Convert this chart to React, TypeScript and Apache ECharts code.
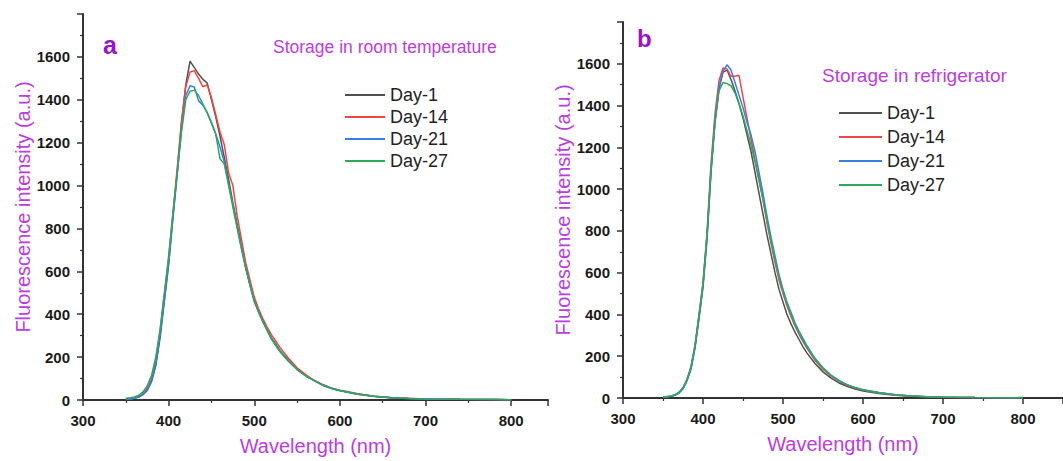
import React, { useEffect, useRef } from "react";
import * as echarts from "echarts";

const wavelengths = [350,355,360,365,370,375,380,385,390,395,400,405,410,415,420,425,430,435,440,445,450,455,460,465,470,475,480,485,490,495,500,505,510,515,520,525,530,540,550,560,570,580,590,600,620,640,660,680,700,740,780,800];

const seriesNames = ["Day-1", "Day-14", "Day-21", "Day-27"];
const seriesColors = ["#505050", "#f04545", "#3a7fe0", "#2fa85c"];

// Panel a: storage in room temperature
const roomDay1 = [3,5,8,14,25,45,85,160,290,460,630,850,1060,1290,1470,1580,1550,1520,1495,1478,1400,1320,1230,1130,1030,920,820,720,620,540,465,415,370,330,290,260,230,185,145,115,90,70,55,44,28,17,10,7,5,3,2,1];
const roomDay14 = [4,6,10,17,30,55,100,185,320,490,660,870,1080,1300,1460,1530,1535,1500,1460,1470,1410,1330,1250,1190,1060,1000,860,750,640,560,480,425,380,340,305,275,245,195,150,118,92,72,56,45,30,18,11,8,5,3,2,1];
const roomDay21 = [3,5,8,14,26,48,90,170,300,470,640,850,1050,1260,1420,1465,1460,1395,1375,1340,1290,1240,1180,1110,1010,910,810,710,615,535,460,410,365,325,285,255,225,180,142,112,90,68,54,43,27,16,10,7,5,3,2,1];
const roomDay27 = [8,10,14,22,38,65,115,200,330,500,670,870,1060,1250,1400,1440,1445,1420,1380,1340,1295,1240,1125,1100,1000,900,800,705,615,535,460,410,365,325,285,255,228,182,142,112,90,70,55,44,28,17,11,7,5,3,2,1];

// Panel b: storage in refrigerator
const fridgeDay1 = [3,5,8,14,25,45,85,140,240,380,530,760,1080,1320,1480,1560,1570,1525,1470,1410,1340,1260,1180,1080,980,880,780,690,600,520,460,400,355,315,280,245,215,165,125,95,72,56,43,34,21,13,8,5,4,2,1,1];
const fridgeDay14 = [4,6,9,15,27,48,88,150,250,395,550,790,1120,1360,1520,1580,1575,1540,1540,1545,1440,1340,1240,1140,1050,950,840,740,650,565,500,440,390,345,305,270,238,180,138,105,80,62,48,38,25,15,9,6,4,2,1,1];
const fridgeDay21 = [3,5,8,13,24,44,82,140,245,390,540,770,1090,1330,1490,1565,1595,1570,1510,1450,1390,1320,1260,1180,1080,980,870,770,680,590,520,460,410,360,320,285,250,190,145,110,84,64,50,40,26,15,9,6,4,2,1,2];
const fridgeDay27 = [5,7,10,16,28,50,90,150,255,400,550,780,1090,1320,1470,1510,1505,1495,1460,1410,1350,1280,1210,1130,1040,950,850,750,660,580,510,450,400,350,310,275,242,185,142,108,82,63,49,39,25,15,9,6,4,2,1,2];

const roomSeries = [roomDay1, roomDay14, roomDay21, roomDay27];
const fridgeSeries = [fridgeDay1, fridgeDay14, fridgeDay21, fridgeDay27];

const yTicks = { min: 0, max: 1800, interval: 200 };
const xTicks = { min: 300, interval: 100 };

const FONT = "'Liberation Sans', Arial, sans-serif";
const PURPLE = "#bb3de0";
const DARK_PURPLE = "#9a12cc";

const plain = (v: number) => String(v);

function xAxisCfg(gridIndex: number, max: number) {
  return {
    type: "value",
    gridIndex,
    min: xTicks.min,
    max,
    interval: xTicks.interval,
    name: "Wavelength (nm)",
    nameLocation: "middle",
    nameGap: 36,
    nameTextStyle: { color: PURPLE, fontSize: 20, fontFamily: FONT },
    axisLine: { show: true, onZero: false, lineStyle: { color: "#333", width: 2 } },
    axisTick: { show: true, length: 6, lineStyle: { color: "#333", width: 1.5 } },
    minorTick: { show: true, splitNumber: 2, length: 3, lineStyle: { color: "#333", width: 1.2 } },
    splitLine: { show: false },
    axisLabel: {
      showMaxLabel: false,
      formatter: plain,
      margin: 13,
      color: "#1a1a1a",
      fontSize: 15,
      fontWeight: "bold",
      fontFamily: FONT,
    },
  };
}

function yAxisCfg(gridIndex: number) {
  return {
    type: "value",
    gridIndex,
    min: yTicks.min,
    max: yTicks.max,
    interval: yTicks.interval,
    name: "Fluorescence intensity (a.u.)",
    nameLocation: "middle",
    nameGap: 50,
    nameTextStyle: { color: PURPLE, fontSize: 20, fontFamily: FONT },
    axisLine: { show: true, lineStyle: { color: "#333", width: 2 } },
    axisTick: { show: true, length: 6, lineStyle: { color: "#333", width: 1.5 } },
    minorTick: { show: true, splitNumber: 2, length: 3, lineStyle: { color: "#333", width: 1.2 } },
    splitLine: { show: false },
    axisLabel: {
      showMaxLabel: false,
      formatter: plain,
      margin: 13,
      color: "#1a1a1a",
      fontSize: 15,
      fontWeight: "bold",
      fontFamily: FONT,
    },
  };
}

export default function App() {
  const ref = useRef<HTMLDivElement>(null);

  useEffect(() => {
    if (!ref.current) return;
    const chart = echarts.init(ref.current, null, { renderer: "svg" });

    const makeSeries = (data: number[][], idx: number) =>
      data.map((vals, i) => ({
        type: "line",
        name: seriesNames[i],
        xAxisIndex: idx,
        yAxisIndex: idx,
        data: wavelengths.map((w, k) => [w, vals[k]]),
        showSymbol: false,
        symbol: "none",
        color: seriesColors[i],
        lineStyle: { width: 1.5, color: seriesColors[i] },
      }));

    const legendCommon = {
      orient: "vertical",
      icon: "rect",
      itemHeight: 2,
      padding: 0,
      data: seriesNames,
      selectedMode: false,
      textStyle: { fontSize: 18, color: "#222", fontFamily: FONT },
    };

    chart.setOption({
      animation: false,
      backgroundColor: "#ffffff",
      grid: [
        { left: 83, top: 14, width: 465, height: 386 },
        { left: 623, top: 22, width: 462, height: 376 },
      ],
      xAxis: [xAxisCfg(0, 843), xAxisCfg(1, 850)],
      yAxis: [yAxisCfg(0), yAxisCfg(1)],
      legend: [
        { ...legendCommon, left: 345, top: 86, itemWidth: 40, itemGap: 4 },
        { ...legendCommon, left: 839, top: 104, itemWidth: 43, itemGap: 6 },
      ],
      graphic: [
        {
          type: "text",
          x: 103,
          y: 45,
          style: { text: "a", fontSize: 25, fontWeight: "bold", fill: DARK_PURPLE, fontFamily: FONT, textVerticalAlign: "middle" },
        },
        {
          type: "text",
          x: 637,
          y: 38,
          style: { text: "b", fontSize: 24, fontWeight: "bold", fill: DARK_PURPLE, fontFamily: FONT, textVerticalAlign: "middle" },
        },
        {
          type: "text",
          x: 273,
          y: 47,
          style: { text: "Storage in room temperature", fontSize: 17.5, fill: PURPLE, fontFamily: FONT, textVerticalAlign: "middle" },
        },
        {
          type: "text",
          x: 822,
          y: 75,
          style: { text: "Storage in refrigerator", fontSize: 19, fill: PURPLE, fontFamily: FONT, textVerticalAlign: "middle" },
        },
      ],
      series: [...makeSeries(roomSeries, 0), ...makeSeries(fridgeSeries, 1)],
    });

    return () => chart.dispose();
  }, []);

  return (
    <div
      ref={ref}
      style={{ position: "absolute", left: 0, top: 0, width: 1063, height: 461, background: "#fff" }}
    />
  );
}
